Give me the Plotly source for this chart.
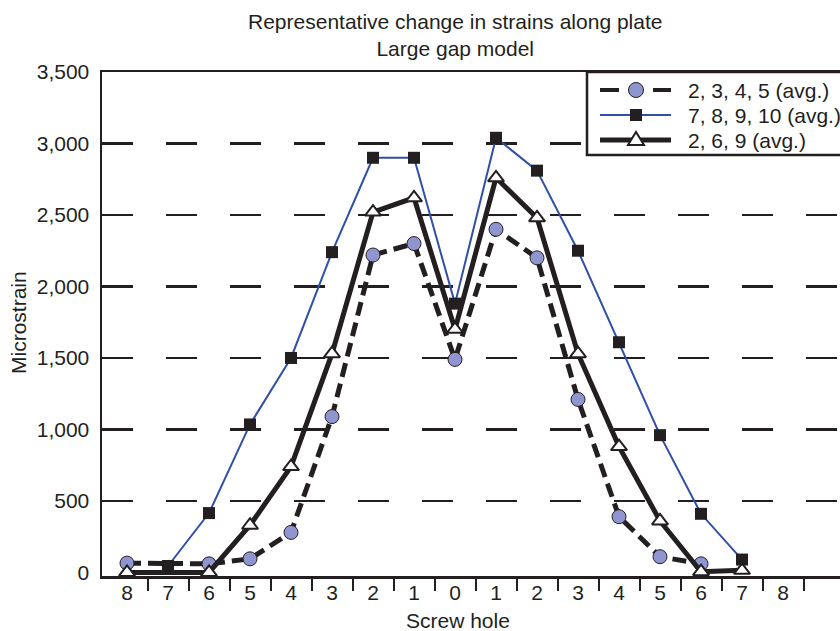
import plotly.graph_objects as go

# ---------------- data ----------------
screw_holes = ["8", "7", "6", "5", "4", "3", "2", "1", "0", "1", "2", "3", "4", "5", "6", "7", "8"]
avg_2345 = [65, None, 60, 95, 280, 1090, 2220, 2300, 1490, 2400, 2200, 1210, 390, 110, 60, None, None]
avg_78910 = [None, 45, 415, 1035, 1500, 2240, 2900, 2900, 1880, 3040, 2810, 2250, 1610, 960, 410, 90, None]
avg_269 = [0, None, 0, 330, 740, 1530, 2520, 2620, 1700, 2760, 2480, 1530, 880, 360, 5, 15, None]
series_names = ["2, 3, 4, 5 (avg.)", "7, 8, 9, 10 (avg.)", "2, 6, 9 (avg.)"]
y_ticks = [0, 500, 1000, 1500, 2000, 2500, 3000, 3500]

title_text = "Representative change in strains along plate<br>Large gap model"
x_title = "Screw hole"
y_title = "Microstrain"

# ---------------- styles ----------------
INK = "#231f20"
BLUE = "#3050a8"
PERI = "#8f96cf"
FONT = "Liberation Sans, Arial, Helvetica, sans-serif"
FS = 21

W, H = 840, 631
# plot area in page pixels
PX0, PX1, PY0, PY1 = 102, 840, 72, 576
L, R, T, B = PX0, W - PX1, PY0, H - PY1
x_pos = list(range(len(screw_holes)))


def px_x(p):
    return (p - PX0) / (PX1 - PX0)


def px_y(p):
    return (PY1 - p) / (PY1 - PY0)


fig = go.Figure()

fig.add_trace(go.Scatter(
    x=x_pos, y=avg_2345, name=series_names[0], mode="lines+markers",
    connectgaps=True, cliponaxis=False,
    line=dict(color=INK, width=5, dash="14px,7px"),
    marker=dict(symbol="circle", size=14, color=PERI, line=dict(color=INK, width=1)),
    showlegend=False,
))
fig.add_trace(go.Scatter(
    x=x_pos, y=avg_269, name=series_names[2], mode="lines+markers",
    connectgaps=True, cliponaxis=False,
    line=dict(color=INK, width=5),
    marker=dict(symbol="triangle-up", size=14, color="white", line=dict(color=INK, width=2)),
    showlegend=False,
))
fig.add_trace(go.Scatter(
    x=x_pos, y=avg_78910, name=series_names[1], mode="lines+markers",
    connectgaps=True, cliponaxis=False,
    line=dict(color=BLUE, width=2),
    marker=dict(symbol="square", size=12, color=INK, line=dict(color=INK, width=0)),
    showlegend=False,
))

shapes = []
# legend box
shapes.append(dict(type="rect", xref="paper", yref="paper",
                   x0=px_x(587), x1=px_x(860), y0=px_y(155), y1=px_y(72),
                   line=dict(color=INK, width=2.5), fillcolor="white", layer="above"))
rows = [90, 115, 140]
lx0, lx1, lmid = 600, 671, 636
# row 1: dashed + circle
shapes.append(dict(type="line", xref="paper", yref="paper",
                   x0=px_x(lx0), x1=px_x(619), y0=px_y(rows[0]), y1=px_y(rows[0]),
                   line=dict(color=INK, width=4)))
shapes.append(dict(type="line", xref="paper", yref="paper",
                   x0=px_x(653), x1=px_x(lx1), y0=px_y(rows[0]), y1=px_y(rows[0]),
                   line=dict(color=INK, width=4)))
shapes.append(dict(type="circle", xref="paper", yref="paper",
                   xsizemode="pixel", ysizemode="pixel",
                   xanchor=px_x(lmid), yanchor=px_y(rows[0]),
                   x0=-7.5, x1=7.5, y0=-7.5, y1=7.5,
                   fillcolor=PERI, line=dict(color=INK, width=1)))
# row 2: blue + square
shapes.append(dict(type="line", xref="paper", yref="paper",
                   x0=px_x(lx0), x1=px_x(lx1), y0=px_y(rows[1]), y1=px_y(rows[1]),
                   line=dict(color=BLUE, width=2)))
shapes.append(dict(type="rect", xref="paper", yref="paper",
                   xsizemode="pixel", ysizemode="pixel",
                   xanchor=px_x(lmid), yanchor=px_y(rows[1]),
                   x0=-6, x1=6, y0=-6, y1=6,
                   fillcolor=INK, line=dict(color=INK, width=0)))
# row 3: thick + triangle
shapes.append(dict(type="line", xref="paper", yref="paper",
                   x0=px_x(lx0), x1=px_x(lx1), y0=px_y(rows[2]), y1=px_y(rows[2]),
                   line=dict(color=INK, width=5)))
shapes.append(dict(type="path", xref="paper", yref="paper",
                   xsizemode="pixel", ysizemode="pixel",
                   xanchor=px_x(lmid), yanchor=px_y(rows[2]),
                   path="M-8,-5 L8,-5 L0,8 Z",
                   fillcolor="white", line=dict(color=INK, width=2)))

annotations = []
for name, ry in zip(series_names, rows):
    annotations.append(dict(text=name, xref="paper", yref="paper",
                            x=px_x(686), y=px_y(ry), xanchor="left", yanchor="middle",
                            showarrow=False, font=dict(family=FONT, size=FS, color=INK)))
annotations.append(dict(text=title_text, xref="paper", yref="paper",
                        x=px_x(455), y=px_y(35), xanchor="center", yanchor="middle",
                        showarrow=False, font=dict(family=FONT, size=FS, color=INK)))
annotations.append(dict(text=x_title, xref="paper", yref="paper",
                        x=px_x(458), y=px_y(620), xanchor="center", yanchor="middle",
                        showarrow=False, font=dict(family=FONT, size=FS, color=INK)))
annotations.append(dict(text=y_title, xref="paper", yref="paper", textangle=-90,
                        x=px_x(18), y=px_y(323), xanchor="center", yanchor="middle",
                        showarrow=False, font=dict(family=FONT, size=FS, color=INK)))

fig.update_layout(
    width=W, height=H,
    margin=dict(l=L, r=R, t=T, b=B, pad=0),
    paper_bgcolor="white", plot_bgcolor="white",
    font=dict(family=FONT, size=FS, color=INK),
    showlegend=False,
    hovermode=False,
    shapes=shapes,
    annotations=annotations,
    xaxis=dict(
        range=[-0.61, 17.39],
        tickmode="array", tickvals=x_pos, ticktext=screw_holes,
        ticks="", showgrid=False, zeroline=False,
        showline=True, linecolor=INK, linewidth=2.5, mirror=True,
        ticklabelstandoff=-4,
        tickfont=dict(family=FONT, size=FS, color=INK),
        minor=dict(tickmode="array", tickvals=[i + 0.5 for i in x_pos],
                   ticks="outside", ticklen=12, tickwidth=2, tickcolor=INK, showgrid=False),
    ),
    yaxis=dict(
        range=[-25, 3500],
        tickmode="array", tickvals=y_ticks, tickformat=",d",
        ticks="", showgrid=False, zeroline=False,
        showline=True, linecolor=INK, linewidth=2.5,
        ticklabelstandoff=6,
        tickfont=dict(family=FONT, size=FS, color=INK),
        minor=dict(tickmode="array", tickvals=y_ticks[1:], ticks="",
                   showgrid=True, gridcolor=INK, gridwidth=2.5, griddash="31px,33px"),
    ),
)

fig.write_html(
    "out.html",
    config={"displayModeBar": False, "staticPlot": True},
    post_script="document.body.style.margin='0px';document.documentElement.style.overflow='hidden';",
)
